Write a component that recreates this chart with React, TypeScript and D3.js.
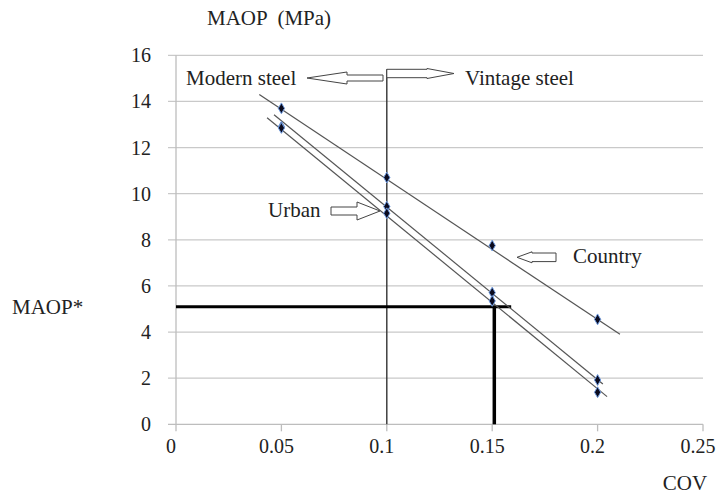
import React from 'react';
import * as d3 from 'd3';

// COV values on the x axis
const cov = [0.05, 0.1, 0.15, 0.2];
// MAOP (MPa)
const country = [13.7, 10.7, 7.75, 4.55];
const urbanHigh = [12.9, 9.44, 5.71, 1.92];
const urbanLow = [12.85, 9.15, 5.35, 1.39];

const xTicks = [0, 0.05, 0.1, 0.15, 0.2, 0.25];
const xTickLabels = ['0', '0.05', '0.1', '0.15', '0.2', '0.25'];
const yTicks = [0, 2, 4, 6, 8, 10, 12, 14, 16];

// trendline end points [COV, MAOP]
const countryTrend = [[0.0395, 14.3], [0.2106, 3.9]];
const urbanHighTrend = [[0.0465, 13.42], [0.2025, 1.75]];
const urbanLowTrend = [[0.0432, 13.29], [0.2045, 1.2]];

const maopStar = 5.1;
const covStar = 0.151;

const W = 718;
const H = 495;
const FONT = '"Liberation Serif"';

// hollow block arrow, horizontal
function blockArrow(tip: number, cy: number, tail: number, headL: number, sh: number, hh: number) {
  const dir = tail > tip ? 1 : -1;
  const b = tip + dir * headL;
  return `M${tip},${cy} L${b},${cy - hh} L${b},${cy - sh} L${tail},${cy - sh} L${tail},${cy + sh} L${b},${cy + sh} L${b},${cy + hh} Z`;
}

export default function App() {
  const x = d3.scaleLinear().domain([0, 0.25]).range([176, 703]);
  const y = d3.scaleLinear().domain([0, 16]).range([424.3, 55.3]);

  const series = [country, urbanHigh, urbanLow];
  const trends = [countryTrend, urbanHighTrend, urbanLowTrend];
  const line = d3.line<number[]>().x(d => x(d[0])).y(d => y(d[1]));
  const diamond = d3.symbol().type(d3.symbolDiamond).size(34)();

  const gridColor = '#c9c9c9';
  const axisColor = '#bdbdbd';
  const tick = { fontFamily: FONT, fontSize: 20, fill: '#222' } as React.CSSProperties;
  const txt = { fontFamily: FONT, fontSize: 21, fill: '#222' } as React.CSSProperties;

  return (
    <svg width={W} height={H} style={{ position: 'absolute', left: 0, top: 0, background: '#fff' }}>
      {/* grid */}
      {yTicks.slice(1).map(t => (
        <line key={'g' + t} x1={168} x2={x(0.25)} y1={y(t)} y2={y(t)} stroke={gridColor} strokeWidth={1.2} />
      ))}
      {/* axes */}
      <line x1={x(0)} x2={x(0)} y1={y(16)} y2={y(0) + 7} stroke={axisColor} strokeWidth={1.3} />
      <line x1={168} x2={x(0.25)} y1={y(0)} y2={y(0)} stroke={axisColor} strokeWidth={1.3} />
      {xTicks.slice(1).map(t => (
        <line key={'xt' + t} x1={x(t)} x2={x(t)} y1={y(0)} y2={y(0) + 7} stroke={axisColor} strokeWidth={1.3} />
      ))}
      {yTicks.map(t => (
        <text key={'yl' + t} x={151} y={y(t)} dy="0.35em" textAnchor="end" style={tick}>{t}</text>
      ))}
      {xTicks.map((t, i) => (
        <text key={'xl' + t} x={x(t) - 5} y={453} textAnchor="middle" style={tick}>{xTickLabels[i]}</text>
      ))}

      {/* axis titles */}
      <text x={207} y={25} style={{ ...txt, whiteSpace: 'pre' }}>{'MAOP  (MPa)'}</text>
      <text x={12} y={307} dy="0.35em" style={txt}>MAOP*</text>
      <text x={685} y={490} textAnchor="middle" style={txt}>COV</text>

      {/* 0.1 divider */}
      <line x1={x(0.1)} x2={x(0.1)} y1={69.3} y2={y(0)} stroke="#333" strokeWidth={1.4} />

      {/* MAOP* reading */}
      <line x1={x(0)} x2={x(0.159)} y1={y(maopStar)} y2={y(maopStar)} stroke="#000" strokeWidth={3} />
      <line x1={x(covStar)} x2={x(covStar)} y1={y(maopStar)} y2={y(0)} stroke="#000" strokeWidth={3.5} />

      {/* trendlines */}
      {trends.map((t, i) => (
        <path key={'t' + i} d={line(t) || ''} stroke="#555" strokeWidth={1.2} fill="none" />
      ))}

      {/* points */}
      {series.map((s, i) =>
        s.map((v, j) => (
          <path key={'p' + i + '-' + j} d={diamond || ''} transform={`translate(${x(cov[j])},${y(v)})`}
            fill="#0b0b1e" stroke="#6f9be0" strokeWidth={1} />
        ))
      )}

      {/* annotations */}
      <text x={186} y={85} style={txt}>Modern steel</text>
      <path d={blockArrow(307, 78, 383, 40, 3, 6)} fill="#fff" stroke="#444" strokeWidth={1} />
      <path d={blockArrow(454, 73.5, x(0.1), 27, 4.2, 5)} fill="#fff" stroke="#444" strokeWidth={1} />
      <text x={465} y={85} style={txt}>Vintage steel</text>

      <text x={268} y={217} style={txt}>Urban</text>
      <path d={blockArrow(380, 211, 331, 23, 4, 9)} fill="#fff" stroke="#444" strokeWidth={1} />

      <path d={blockArrow(517, 257.3, 556, 15, 4.3, 5.5)} fill="#fff" stroke="#444" strokeWidth={1} />
      <text x={573} y={263} style={txt}>Country</text>
    </svg>
  );
}
